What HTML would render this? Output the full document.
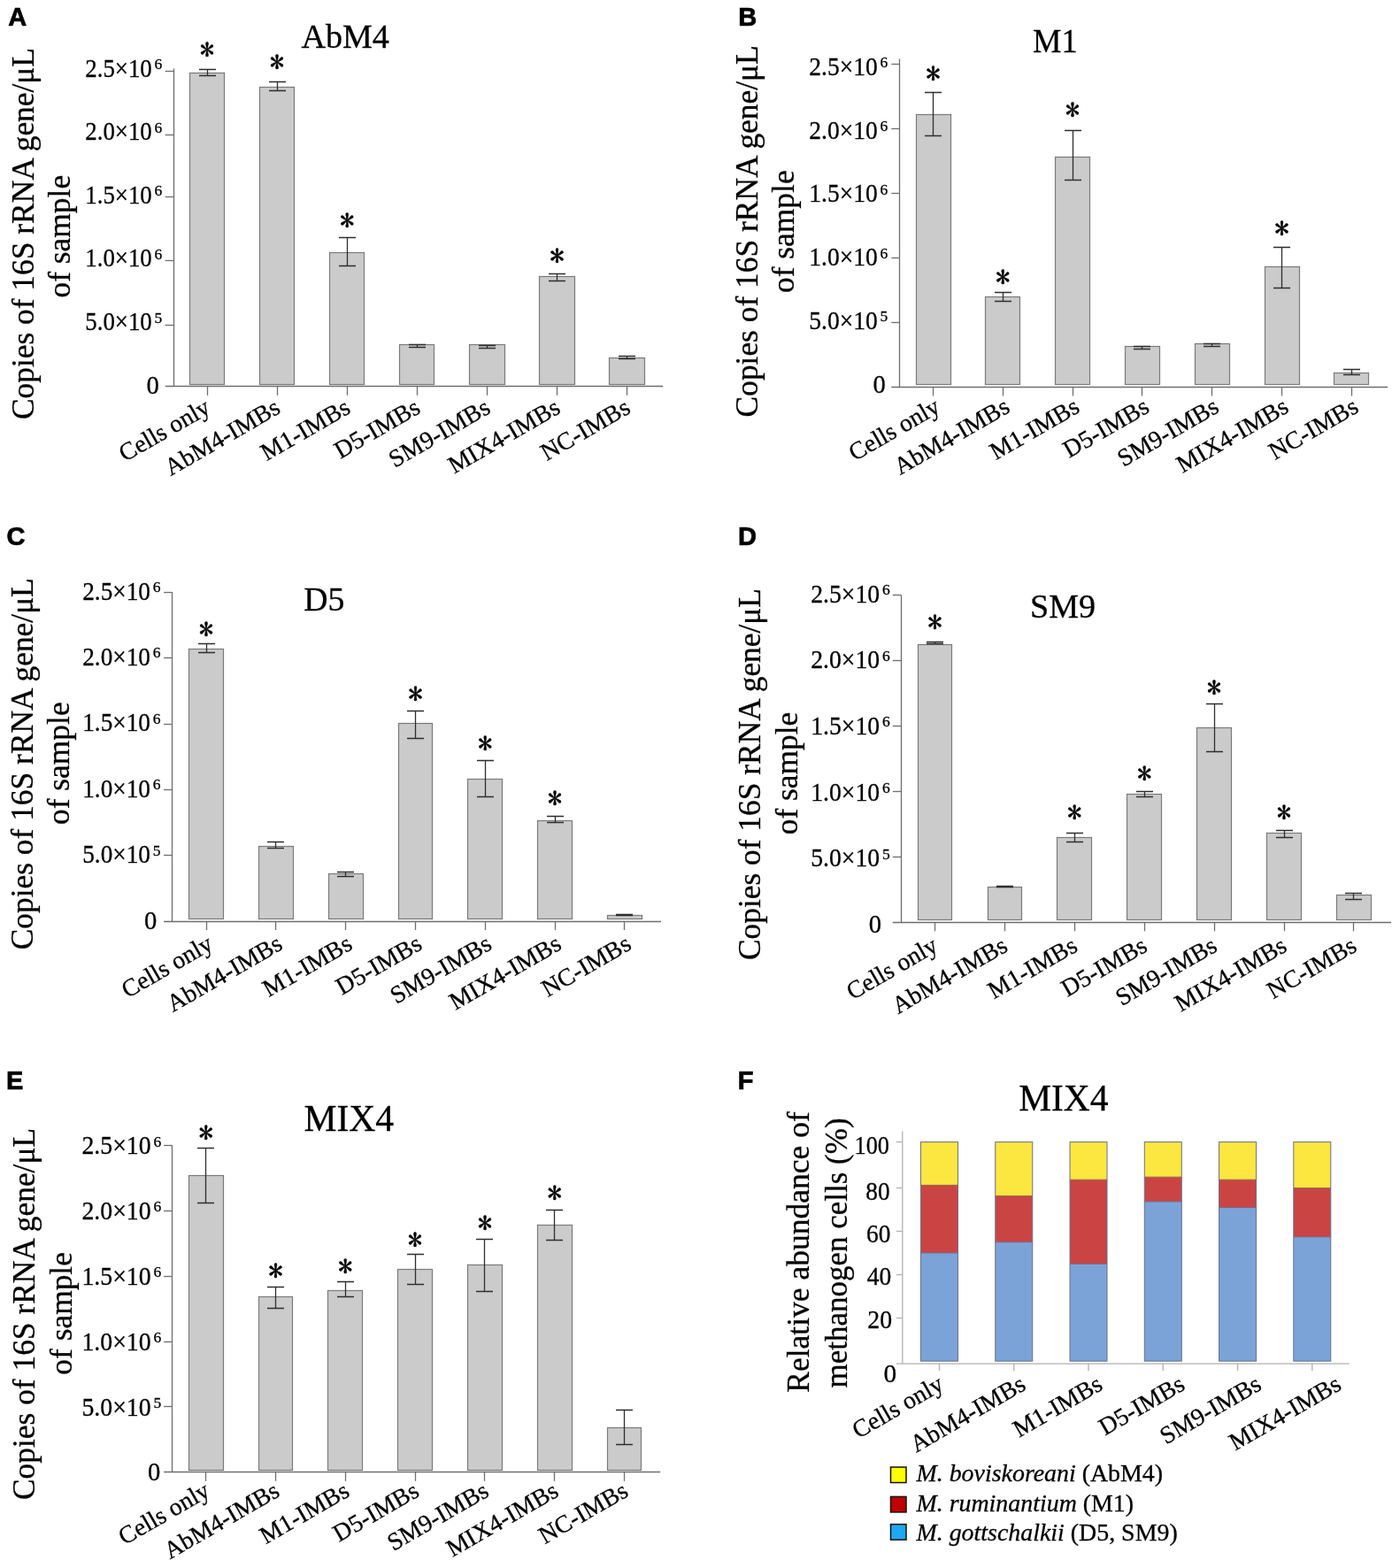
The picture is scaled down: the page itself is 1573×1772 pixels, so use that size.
<!DOCTYPE html>
<html><head><meta charset="utf-8"><title>Figure</title>
<style>html,body{margin:0;padding:0;background:#fff;width:1573px;height:1772px;overflow:hidden}svg{display:block}text:not([stroke]){stroke:#000;stroke-width:0.3px}</style>
</head><body>
<svg width="1573" height="1772" viewBox="0 0 1573 1772" font-family='Liberation Serif, serif' fill="#000">
<rect width="1573" height="1772" fill="#fff"/>
<g>
<line x1="196.5" y1="77.5" x2="196.5" y2="436.5" stroke="#6e6e6e" stroke-width="1.3"/>
<line x1="186.6" y1="436.5" x2="749.2" y2="436.5" stroke="#6e6e6e" stroke-width="1.3"/>
<text x="179.7" y="444.6" text-anchor="end" font-size="28.6">0</text>
<line x1="186.6" y1="367.5" x2="196.5" y2="367.5" stroke="#6e6e6e" stroke-width="1.3"/>
<text x="171.8" y="373.02" text-anchor="end" font-size="28.6" textLength="75.55" lengthAdjust="spacingAndGlyphs">5.0×10</text>
<text x="174.6" y="364.52" font-size="17.5">5</text>
<line x1="186.6" y1="294.5" x2="196.5" y2="294.5" stroke="#6e6e6e" stroke-width="1.3"/>
<text x="171.8" y="301.44" text-anchor="end" font-size="28.6" textLength="75.55" lengthAdjust="spacingAndGlyphs">1.0×10</text>
<text x="174.6" y="292.94" font-size="17.5">6</text>
<line x1="186.6" y1="222.5" x2="196.5" y2="222.5" stroke="#6e6e6e" stroke-width="1.3"/>
<text x="171.8" y="229.86" text-anchor="end" font-size="28.6" textLength="75.55" lengthAdjust="spacingAndGlyphs">1.5×10</text>
<text x="174.6" y="221.36" font-size="17.5">6</text>
<line x1="186.6" y1="152.5" x2="196.5" y2="152.5" stroke="#6e6e6e" stroke-width="1.3"/>
<text x="171.8" y="158.28" text-anchor="end" font-size="28.6" textLength="75.55" lengthAdjust="spacingAndGlyphs">2.0×10</text>
<text x="174.6" y="149.78" font-size="17.5">6</text>
<line x1="186.6" y1="80.5" x2="196.5" y2="80.5" stroke="#6e6e6e" stroke-width="1.3"/>
<text x="171.8" y="86.7" text-anchor="end" font-size="28.6" textLength="75.55" lengthAdjust="spacingAndGlyphs">2.5×10</text>
<text x="174.6" y="78.2" font-size="17.5">6</text>
<rect x="214.5" y="82.5" width="39" height="352" fill="#cbcbcb" stroke="#7a7a7a" stroke-width="1.2"/>
<rect x="293.5" y="98.5" width="39" height="336" fill="#cbcbcb" stroke="#7a7a7a" stroke-width="1.2"/>
<rect x="372.5" y="285.5" width="39" height="149" fill="#cbcbcb" stroke="#7a7a7a" stroke-width="1.2"/>
<rect x="451.5" y="389.5" width="39" height="45" fill="#cbcbcb" stroke="#7a7a7a" stroke-width="1.2"/>
<rect x="530.5" y="389.5" width="40" height="45" fill="#cbcbcb" stroke="#7a7a7a" stroke-width="1.2"/>
<rect x="609.5" y="312.5" width="40" height="122" fill="#cbcbcb" stroke="#7a7a7a" stroke-width="1.2"/>
<rect x="688.5" y="404.5" width="40" height="30" fill="#cbcbcb" stroke="#7a7a7a" stroke-width="1.2"/>
<path d="M225 78.5H244M225 85.5H244M234.5 78.5V85.5" stroke="#2e2e2e" stroke-width="1.3" fill="none"/>
<path d="M304 92.5H323M304 102.5H323M313.5 92.5V102.5" stroke="#2e2e2e" stroke-width="1.3" fill="none"/>
<path d="M383 268.5H402M383 300.5H402M392.5 268.5V300.5" stroke="#2e2e2e" stroke-width="1.3" fill="none"/>
<path d="M462 389.5H481M462 392.5H481M471.5 389.5V392.5" stroke="#2e2e2e" stroke-width="1.3" fill="none"/>
<path d="M541 390.5H560M541 393.5H560M550.5 390.5V393.5" stroke="#2e2e2e" stroke-width="1.3" fill="none"/>
<path d="M620 309.5H639M620 317.5H639M629.5 309.5V317.5" stroke="#2e2e2e" stroke-width="1.3" fill="none"/>
<path d="M699 402.5H718M699 405.5H718M708.5 402.5V405.5" stroke="#2e2e2e" stroke-width="1.3" fill="none"/>
<line x1="234.5" y1="436.5" x2="234.5" y2="446.8" stroke="#6e6e6e" stroke-width="1.3"/>
<line x1="313.5" y1="436.5" x2="313.5" y2="446.8" stroke="#6e6e6e" stroke-width="1.3"/>
<line x1="392.5" y1="436.5" x2="392.5" y2="446.8" stroke="#6e6e6e" stroke-width="1.3"/>
<line x1="471.5" y1="436.5" x2="471.5" y2="446.8" stroke="#6e6e6e" stroke-width="1.3"/>
<line x1="550.5" y1="436.5" x2="550.5" y2="446.8" stroke="#6e6e6e" stroke-width="1.3"/>
<line x1="629.5" y1="436.5" x2="629.5" y2="446.8" stroke="#6e6e6e" stroke-width="1.3"/>
<line x1="708.5" y1="436.5" x2="708.5" y2="446.8" stroke="#6e6e6e" stroke-width="1.3"/>
<text x="234" y="67.95" text-anchor="middle" font-family='IPAGothic, Liberation Serif, serif' font-size="33" stroke="#000" stroke-width="0.5" stroke-linejoin="round">*</text>
<text x="313.1" y="82.1" text-anchor="middle" font-family='IPAGothic, Liberation Serif, serif' font-size="33" stroke="#000" stroke-width="0.5" stroke-linejoin="round">*</text>
<text x="392.2" y="260.6" text-anchor="middle" font-family='IPAGothic, Liberation Serif, serif' font-size="33" stroke="#000" stroke-width="0.5" stroke-linejoin="round">*</text>
<text x="629.5" y="300.95" text-anchor="middle" font-family='IPAGothic, Liberation Serif, serif' font-size="33" stroke="#000" stroke-width="0.5" stroke-linejoin="round">*</text>
<text transform="translate(239.4 465.6) rotate(-30)" text-anchor="end" font-size="27.8">Cells only</text>
<text transform="translate(318.5 465.6) rotate(-30)" text-anchor="end" font-size="27.8">AbM4-IMBs</text>
<text transform="translate(397.6 465.6) rotate(-30)" text-anchor="end" font-size="27.8">M1-IMBs</text>
<text transform="translate(476.7 465.6) rotate(-30)" text-anchor="end" font-size="27.8">D5-IMBs</text>
<text transform="translate(555.8 465.6) rotate(-30)" text-anchor="end" font-size="27.8">SM9-IMBs</text>
<text transform="translate(634.9 465.6) rotate(-30)" text-anchor="end" font-size="27.8">MIX4-IMBs</text>
<text transform="translate(714 465.6) rotate(-30)" text-anchor="end" font-size="27.8">NC-IMBs</text>
<text x="340.5" y="54.4" font-size="38.2" textLength="99.4" lengthAdjust="spacingAndGlyphs">AbM4</text>
<text transform="translate(37.6 264.1) rotate(-90)" text-anchor="middle" font-size="35.4">Copies of 16S rRNA gene/μL</text>
<text transform="translate(78.5 267.2) rotate(-90)" text-anchor="middle" font-size="35.4">of sample</text>
<text x="9.3" y="28.7" font-family='Liberation Sans, sans-serif' font-weight="bold" font-size="29" stroke="#000" stroke-width="0.7">A</text>
</g>
<g>
<line x1="1016.5" y1="66.6" x2="1016.5" y2="437.5" stroke="#6e6e6e" stroke-width="1.3"/>
<line x1="1007.3" y1="437.5" x2="1568" y2="437.5" stroke="#6e6e6e" stroke-width="1.3"/>
<text x="1000.8" y="443.6" text-anchor="end" font-size="28.6">0</text>
<line x1="1007.3" y1="364.5" x2="1016.5" y2="364.5" stroke="#6e6e6e" stroke-width="1.3"/>
<text x="991.8" y="371.84" text-anchor="end" font-size="28.6" textLength="77.5" lengthAdjust="spacingAndGlyphs">5.0×10</text>
<text x="994.6" y="363.34" font-size="17.5">5</text>
<line x1="1007.3" y1="291.5" x2="1016.5" y2="291.5" stroke="#6e6e6e" stroke-width="1.3"/>
<text x="991.8" y="300.08" text-anchor="end" font-size="28.6" textLength="77.5" lengthAdjust="spacingAndGlyphs">1.0×10</text>
<text x="994.6" y="291.58" font-size="17.5">6</text>
<line x1="1007.3" y1="218.5" x2="1016.5" y2="218.5" stroke="#6e6e6e" stroke-width="1.3"/>
<text x="991.8" y="228.32" text-anchor="end" font-size="28.6" textLength="77.5" lengthAdjust="spacingAndGlyphs">1.5×10</text>
<text x="994.6" y="219.82" font-size="17.5">6</text>
<line x1="1007.3" y1="145.5" x2="1016.5" y2="145.5" stroke="#6e6e6e" stroke-width="1.3"/>
<text x="991.8" y="156.56" text-anchor="end" font-size="28.6" textLength="77.5" lengthAdjust="spacingAndGlyphs">2.0×10</text>
<text x="994.6" y="148.06" font-size="17.5">6</text>
<line x1="1007.3" y1="72.5" x2="1016.5" y2="72.5" stroke="#6e6e6e" stroke-width="1.3"/>
<text x="991.8" y="84.8" text-anchor="end" font-size="28.6" textLength="77.5" lengthAdjust="spacingAndGlyphs">2.5×10</text>
<text x="994.6" y="76.3" font-size="17.5">6</text>
<rect x="1035.5" y="129.5" width="39" height="305" fill="#cbcbcb" stroke="#7a7a7a" stroke-width="1.2"/>
<rect x="1113.5" y="335.5" width="39" height="99" fill="#cbcbcb" stroke="#7a7a7a" stroke-width="1.2"/>
<rect x="1192.5" y="177.5" width="39" height="257" fill="#cbcbcb" stroke="#7a7a7a" stroke-width="1.2"/>
<rect x="1271.5" y="391.5" width="39" height="43" fill="#cbcbcb" stroke="#7a7a7a" stroke-width="1.2"/>
<rect x="1350.5" y="388.5" width="39" height="46" fill="#cbcbcb" stroke="#7a7a7a" stroke-width="1.2"/>
<rect x="1429.5" y="301.5" width="39" height="133" fill="#cbcbcb" stroke="#7a7a7a" stroke-width="1.2"/>
<rect x="1507.5" y="421.5" width="39" height="13" fill="#cbcbcb" stroke="#7a7a7a" stroke-width="1.2"/>
<path d="M1045 104.5H1064M1045 153.5H1064M1054.5 104.5V153.5" stroke="#2e2e2e" stroke-width="1.3" fill="none"/>
<path d="M1124 330.5H1143M1124 340.5H1143M1133.5 330.5V340.5" stroke="#2e2e2e" stroke-width="1.3" fill="none"/>
<path d="M1203 147.5H1222M1203 203.5H1222M1212.5 147.5V203.5" stroke="#2e2e2e" stroke-width="1.3" fill="none"/>
<path d="M1281 391.5H1300M1281 394.5H1300M1290.5 391.5V394.5" stroke="#2e2e2e" stroke-width="1.3" fill="none"/>
<path d="M1360 388.5H1379M1360 391.5H1379M1369.5 388.5V391.5" stroke="#2e2e2e" stroke-width="1.3" fill="none"/>
<path d="M1439 279.5H1458M1439 325.5H1458M1448.5 279.5V325.5" stroke="#2e2e2e" stroke-width="1.3" fill="none"/>
<path d="M1518 417.5H1537M1518 423.5H1537M1527.5 417.5V423.5" stroke="#2e2e2e" stroke-width="1.3" fill="none"/>
<line x1="1054.5" y1="437.5" x2="1054.5" y2="447.4" stroke="#6e6e6e" stroke-width="1.3"/>
<line x1="1133.5" y1="437.5" x2="1133.5" y2="447.4" stroke="#6e6e6e" stroke-width="1.3"/>
<line x1="1212.5" y1="437.5" x2="1212.5" y2="447.4" stroke="#6e6e6e" stroke-width="1.3"/>
<line x1="1290.5" y1="437.5" x2="1290.5" y2="447.4" stroke="#6e6e6e" stroke-width="1.3"/>
<line x1="1369.5" y1="437.5" x2="1369.5" y2="447.4" stroke="#6e6e6e" stroke-width="1.3"/>
<line x1="1448.5" y1="437.5" x2="1448.5" y2="447.4" stroke="#6e6e6e" stroke-width="1.3"/>
<line x1="1527.5" y1="437.5" x2="1527.5" y2="447.4" stroke="#6e6e6e" stroke-width="1.3"/>
<text x="1054.5" y="94.8" text-anchor="middle" font-family='IPAGothic, Liberation Serif, serif' font-size="33" stroke="#000" stroke-width="0.5" stroke-linejoin="round">*</text>
<text x="1133.3" y="324.5" text-anchor="middle" font-family='IPAGothic, Liberation Serif, serif' font-size="33" stroke="#000" stroke-width="0.5" stroke-linejoin="round">*</text>
<text x="1212.1" y="136.15" text-anchor="middle" font-family='IPAGothic, Liberation Serif, serif' font-size="33" stroke="#000" stroke-width="0.5" stroke-linejoin="round">*</text>
<text x="1448.5" y="270.3" text-anchor="middle" font-family='IPAGothic, Liberation Serif, serif' font-size="33" stroke="#000" stroke-width="0.5" stroke-linejoin="round">*</text>
<text transform="translate(1064 464.7) rotate(-30)" text-anchor="end" font-size="27.8">Cells only</text>
<text transform="translate(1142.8 464.7) rotate(-30)" text-anchor="end" font-size="27.8">AbM4-IMBs</text>
<text transform="translate(1221.6 464.7) rotate(-30)" text-anchor="end" font-size="27.8">M1-IMBs</text>
<text transform="translate(1300.4 464.7) rotate(-30)" text-anchor="end" font-size="27.8">D5-IMBs</text>
<text transform="translate(1379.2 464.7) rotate(-30)" text-anchor="end" font-size="27.8">SM9-IMBs</text>
<text transform="translate(1458 464.7) rotate(-30)" text-anchor="end" font-size="27.8">MIX4-IMBs</text>
<text transform="translate(1536.8 464.7) rotate(-30)" text-anchor="end" font-size="27.8">NC-IMBs</text>
<text x="1167.09" y="58.6" font-size="38.4" textLength="50.63" lengthAdjust="spacingAndGlyphs">M1</text>
<text transform="translate(855.6 261.4) rotate(-90)" text-anchor="middle" font-size="35.4">Copies of 16S rRNA gene/μL</text>
<text transform="translate(897.1 261.7) rotate(-90)" text-anchor="middle" font-size="35.4">of sample</text>
<text x="834.3" y="28.7" font-family='Liberation Sans, sans-serif' font-weight="bold" font-size="29" stroke="#000" stroke-width="0.7">B</text>
</g>
<g>
<line x1="194.5" y1="669" x2="194.5" y2="1041.5" stroke="#6e6e6e" stroke-width="1.3"/>
<line x1="185.1" y1="1041.5" x2="747" y2="1041.5" stroke="#6e6e6e" stroke-width="1.3"/>
<text x="177.4" y="1049.8" text-anchor="end" font-size="28.6">0</text>
<line x1="185.1" y1="966.5" x2="194.5" y2="966.5" stroke="#6e6e6e" stroke-width="1.3"/>
<text x="169.9" y="975.34" text-anchor="end" font-size="28.6" textLength="76.7" lengthAdjust="spacingAndGlyphs">5.0×10</text>
<text x="172.7" y="966.84" font-size="17.5">5</text>
<line x1="185.1" y1="892.5" x2="194.5" y2="892.5" stroke="#6e6e6e" stroke-width="1.3"/>
<text x="169.9" y="900.88" text-anchor="end" font-size="28.6" textLength="76.7" lengthAdjust="spacingAndGlyphs">1.0×10</text>
<text x="172.7" y="892.38" font-size="17.5">6</text>
<line x1="185.1" y1="818.5" x2="194.5" y2="818.5" stroke="#6e6e6e" stroke-width="1.3"/>
<text x="169.9" y="826.42" text-anchor="end" font-size="28.6" textLength="76.7" lengthAdjust="spacingAndGlyphs">1.5×10</text>
<text x="172.7" y="817.92" font-size="17.5">6</text>
<line x1="185.1" y1="743.5" x2="194.5" y2="743.5" stroke="#6e6e6e" stroke-width="1.3"/>
<text x="169.9" y="751.96" text-anchor="end" font-size="28.6" textLength="76.7" lengthAdjust="spacingAndGlyphs">2.0×10</text>
<text x="172.7" y="743.46" font-size="17.5">6</text>
<line x1="185.1" y1="669.5" x2="194.5" y2="669.5" stroke="#6e6e6e" stroke-width="1.3"/>
<text x="169.9" y="677.5" text-anchor="end" font-size="28.6" textLength="76.7" lengthAdjust="spacingAndGlyphs">2.5×10</text>
<text x="172.7" y="669" font-size="17.5">6</text>
<rect x="213.5" y="733.5" width="39" height="305" fill="#cbcbcb" stroke="#7a7a7a" stroke-width="1.2"/>
<rect x="292.5" y="956.5" width="39" height="82" fill="#cbcbcb" stroke="#7a7a7a" stroke-width="1.2"/>
<rect x="371.5" y="987.5" width="39" height="51" fill="#cbcbcb" stroke="#7a7a7a" stroke-width="1.2"/>
<rect x="450.5" y="817.5" width="38" height="221" fill="#cbcbcb" stroke="#7a7a7a" stroke-width="1.2"/>
<rect x="528.5" y="880.5" width="39" height="158" fill="#cbcbcb" stroke="#7a7a7a" stroke-width="1.2"/>
<rect x="607.5" y="927.5" width="39" height="111" fill="#cbcbcb" stroke="#7a7a7a" stroke-width="1.2"/>
<rect x="686.5" y="1034.5" width="39" height="4" fill="#cbcbcb" stroke="#7a7a7a" stroke-width="1.2"/>
<path d="M224 727.5H243M224 737.5H243M233.5 727.5V737.5" stroke="#2e2e2e" stroke-width="1.3" fill="none"/>
<path d="M302 951.5H321M302 958.5H321M311.5 951.5V958.5" stroke="#2e2e2e" stroke-width="1.3" fill="none"/>
<path d="M381 985.5H400M381 990.5H400M390.5 985.5V990.5" stroke="#2e2e2e" stroke-width="1.3" fill="none"/>
<path d="M460 803.5H479M460 834.5H479M469.5 803.5V834.5" stroke="#2e2e2e" stroke-width="1.3" fill="none"/>
<path d="M539 859.5H558M539 900.5H558M548.5 859.5V900.5" stroke="#2e2e2e" stroke-width="1.3" fill="none"/>
<path d="M618 922.5H637M618 929.5H637M627.5 922.5V929.5" stroke="#2e2e2e" stroke-width="1.3" fill="none"/>
<path d="M696 1033.5H715M696 1034.5H715M705.5 1033.5V1034.5" stroke="#2e2e2e" stroke-width="1.3" fill="none"/>
<line x1="233.5" y1="1041.5" x2="233.5" y2="1051" stroke="#6e6e6e" stroke-width="1.3"/>
<line x1="311.5" y1="1041.5" x2="311.5" y2="1051" stroke="#6e6e6e" stroke-width="1.3"/>
<line x1="390.5" y1="1041.5" x2="390.5" y2="1051" stroke="#6e6e6e" stroke-width="1.3"/>
<line x1="469.5" y1="1041.5" x2="469.5" y2="1051" stroke="#6e6e6e" stroke-width="1.3"/>
<line x1="548.5" y1="1041.5" x2="548.5" y2="1051" stroke="#6e6e6e" stroke-width="1.3"/>
<line x1="627.5" y1="1041.5" x2="627.5" y2="1051" stroke="#6e6e6e" stroke-width="1.3"/>
<line x1="705.5" y1="1041.5" x2="705.5" y2="1051" stroke="#6e6e6e" stroke-width="1.3"/>
<text x="233" y="723.2" text-anchor="middle" font-family='IPAGothic, Liberation Serif, serif' font-size="33" stroke="#000" stroke-width="0.5" stroke-linejoin="round">*</text>
<text x="469.4" y="795.8" text-anchor="middle" font-family='IPAGothic, Liberation Serif, serif' font-size="33" stroke="#000" stroke-width="0.5" stroke-linejoin="round">*</text>
<text x="548.2" y="851.55" text-anchor="middle" font-family='IPAGothic, Liberation Serif, serif' font-size="33" stroke="#000" stroke-width="0.5" stroke-linejoin="round">*</text>
<text x="627" y="914.3" text-anchor="middle" font-family='IPAGothic, Liberation Serif, serif' font-size="33" stroke="#000" stroke-width="0.5" stroke-linejoin="round">*</text>
<text transform="translate(242.2 1071.7) rotate(-30)" text-anchor="end" font-size="27.8">Cells only</text>
<text transform="translate(321 1071.7) rotate(-30)" text-anchor="end" font-size="27.8">AbM4-IMBs</text>
<text transform="translate(399.8 1071.7) rotate(-30)" text-anchor="end" font-size="27.8">M1-IMBs</text>
<text transform="translate(478.6 1071.7) rotate(-30)" text-anchor="end" font-size="27.8">D5-IMBs</text>
<text transform="translate(557.4 1071.7) rotate(-30)" text-anchor="end" font-size="27.8">SM9-IMBs</text>
<text transform="translate(636.2 1071.7) rotate(-30)" text-anchor="end" font-size="27.8">MIX4-IMBs</text>
<text transform="translate(715 1071.7) rotate(-30)" text-anchor="end" font-size="27.8">NC-IMBs</text>
<text x="343.36" y="689.7" font-size="38.4" textLength="46.09" lengthAdjust="spacingAndGlyphs">D5</text>
<text transform="translate(36.6 863.3) rotate(-90)" text-anchor="middle" font-size="35.4">Copies of 16S rRNA gene/μL</text>
<text transform="translate(78.2 862.7) rotate(-90)" text-anchor="middle" font-size="35.4">of sample</text>
<text x="7.6" y="616" font-family='Liberation Sans, sans-serif' font-weight="bold" font-size="29" stroke="#000" stroke-width="0.7">C</text>
</g>
<g>
<line x1="1018.5" y1="672.8" x2="1018.5" y2="1042.5" stroke="#6e6e6e" stroke-width="1.3"/>
<line x1="1008.8" y1="1042.5" x2="1572" y2="1042.5" stroke="#6e6e6e" stroke-width="1.3"/>
<text x="996.1" y="1053.8" text-anchor="end" font-size="28.6">0</text>
<line x1="1008.8" y1="968.5" x2="1018.5" y2="968.5" stroke="#6e6e6e" stroke-width="1.3"/>
<text x="994.1" y="979.16" text-anchor="end" font-size="28.6" textLength="77.9" lengthAdjust="spacingAndGlyphs">5.0×10</text>
<text x="996.9" y="970.66" font-size="17.5">5</text>
<line x1="1008.8" y1="894.5" x2="1018.5" y2="894.5" stroke="#6e6e6e" stroke-width="1.3"/>
<text x="994.1" y="904.52" text-anchor="end" font-size="28.6" textLength="77.9" lengthAdjust="spacingAndGlyphs">1.0×10</text>
<text x="996.9" y="896.02" font-size="17.5">6</text>
<line x1="1008.8" y1="820.5" x2="1018.5" y2="820.5" stroke="#6e6e6e" stroke-width="1.3"/>
<text x="994.1" y="829.88" text-anchor="end" font-size="28.6" textLength="77.9" lengthAdjust="spacingAndGlyphs">1.5×10</text>
<text x="996.9" y="821.38" font-size="17.5">6</text>
<line x1="1008.8" y1="746.5" x2="1018.5" y2="746.5" stroke="#6e6e6e" stroke-width="1.3"/>
<text x="994.1" y="755.24" text-anchor="end" font-size="28.6" textLength="77.9" lengthAdjust="spacingAndGlyphs">2.0×10</text>
<text x="996.9" y="746.74" font-size="17.5">6</text>
<line x1="1008.8" y1="672.5" x2="1018.5" y2="672.5" stroke="#6e6e6e" stroke-width="1.3"/>
<text x="994.1" y="680.6" text-anchor="end" font-size="28.6" textLength="77.9" lengthAdjust="spacingAndGlyphs">2.5×10</text>
<text x="996.9" y="672.1" font-size="17.5">6</text>
<rect x="1037.5" y="728.5" width="38" height="311" fill="#cbcbcb" stroke="#7a7a7a" stroke-width="1.2"/>
<rect x="1116.5" y="1002.5" width="38" height="37" fill="#cbcbcb" stroke="#7a7a7a" stroke-width="1.2"/>
<rect x="1194.5" y="946.5" width="39" height="93" fill="#cbcbcb" stroke="#7a7a7a" stroke-width="1.2"/>
<rect x="1273.5" y="897.5" width="39" height="142" fill="#cbcbcb" stroke="#7a7a7a" stroke-width="1.2"/>
<rect x="1352.5" y="822.5" width="39" height="217" fill="#cbcbcb" stroke="#7a7a7a" stroke-width="1.2"/>
<rect x="1431.5" y="941.5" width="39" height="98" fill="#cbcbcb" stroke="#7a7a7a" stroke-width="1.2"/>
<rect x="1510.5" y="1011.5" width="39" height="28" fill="#cbcbcb" stroke="#7a7a7a" stroke-width="1.2"/>
<path d="M1047 725.5H1066M1047 727.5H1066M1056.5 725.5V727.5" stroke="#2e2e2e" stroke-width="1.3" fill="none"/>
<path d="M1126 1001.5H1145M1126 1002.5H1145M1135.5 1001.5V1002.5" stroke="#2e2e2e" stroke-width="1.3" fill="none"/>
<path d="M1205 941.5H1224M1205 951.5H1224M1214.5 941.5V951.5" stroke="#2e2e2e" stroke-width="1.3" fill="none"/>
<path d="M1284 894.5H1303M1284 900.5H1303M1293.5 894.5V900.5" stroke="#2e2e2e" stroke-width="1.3" fill="none"/>
<path d="M1363 795.5H1382M1363 849.5H1382M1372.5 795.5V849.5" stroke="#2e2e2e" stroke-width="1.3" fill="none"/>
<path d="M1442 938.5H1461M1442 946.5H1461M1451.5 938.5V946.5" stroke="#2e2e2e" stroke-width="1.3" fill="none"/>
<path d="M1520 1009.5H1539M1520 1016.5H1539M1529.5 1009.5V1016.5" stroke="#2e2e2e" stroke-width="1.3" fill="none"/>
<line x1="1056.5" y1="1042.5" x2="1056.5" y2="1052.3" stroke="#6e6e6e" stroke-width="1.3"/>
<line x1="1135.5" y1="1042.5" x2="1135.5" y2="1052.3" stroke="#6e6e6e" stroke-width="1.3"/>
<line x1="1214.5" y1="1042.5" x2="1214.5" y2="1052.3" stroke="#6e6e6e" stroke-width="1.3"/>
<line x1="1293.5" y1="1042.5" x2="1293.5" y2="1052.3" stroke="#6e6e6e" stroke-width="1.3"/>
<line x1="1372.5" y1="1042.5" x2="1372.5" y2="1052.3" stroke="#6e6e6e" stroke-width="1.3"/>
<line x1="1451.5" y1="1042.5" x2="1451.5" y2="1052.3" stroke="#6e6e6e" stroke-width="1.3"/>
<line x1="1529.5" y1="1042.5" x2="1529.5" y2="1052.3" stroke="#6e6e6e" stroke-width="1.3"/>
<text x="1056.5" y="714.95" text-anchor="middle" font-family='IPAGothic, Liberation Serif, serif' font-size="33" stroke="#000" stroke-width="0.5" stroke-linejoin="round">*</text>
<text x="1214.3" y="930.15" text-anchor="middle" font-family='IPAGothic, Liberation Serif, serif' font-size="33" stroke="#000" stroke-width="0.5" stroke-linejoin="round">*</text>
<text x="1293.2" y="885.7" text-anchor="middle" font-family='IPAGothic, Liberation Serif, serif' font-size="33" stroke="#000" stroke-width="0.5" stroke-linejoin="round">*</text>
<text x="1372.1" y="789.15" text-anchor="middle" font-family='IPAGothic, Liberation Serif, serif' font-size="33" stroke="#000" stroke-width="0.5" stroke-linejoin="round">*</text>
<text x="1451" y="930.15" text-anchor="middle" font-family='IPAGothic, Liberation Serif, serif' font-size="33" stroke="#000" stroke-width="0.5" stroke-linejoin="round">*</text>
<text transform="translate(1061.5 1073.8) rotate(-30)" text-anchor="end" font-size="27.8">Cells only</text>
<text transform="translate(1140.4 1073.8) rotate(-30)" text-anchor="end" font-size="27.8">AbM4-IMBs</text>
<text transform="translate(1219.3 1073.8) rotate(-30)" text-anchor="end" font-size="27.8">M1-IMBs</text>
<text transform="translate(1298.2 1073.8) rotate(-30)" text-anchor="end" font-size="27.8">D5-IMBs</text>
<text transform="translate(1377.1 1073.8) rotate(-30)" text-anchor="end" font-size="27.8">SM9-IMBs</text>
<text transform="translate(1456 1073.8) rotate(-30)" text-anchor="end" font-size="27.8">MIX4-IMBs</text>
<text transform="translate(1534.9 1073.8) rotate(-30)" text-anchor="end" font-size="27.8">NC-IMBs</text>
<text x="1164" y="697.7" font-size="38.4" textLength="74.06" lengthAdjust="spacingAndGlyphs">SM9</text>
<text transform="translate(858.6 875.1) rotate(-90)" text-anchor="middle" font-size="35.4">Copies of 16S rRNA gene/μL</text>
<text transform="translate(900.8 874) rotate(-90)" text-anchor="middle" font-size="35.4">of sample</text>
<text x="834" y="616.2" font-family='Liberation Sans, sans-serif' font-weight="bold" font-size="29" stroke="#000" stroke-width="0.7">D</text>
</g>
<g>
<line x1="194.5" y1="1294" x2="194.5" y2="1663.5" stroke="#6e6e6e" stroke-width="1.3"/>
<line x1="185.1" y1="1663.5" x2="746.2" y2="1663.5" stroke="#6e6e6e" stroke-width="1.3"/>
<text x="181.4" y="1673.4" text-anchor="end" font-size="28.6">0</text>
<line x1="185.1" y1="1589.5" x2="194.5" y2="1589.5" stroke="#6e6e6e" stroke-width="1.3"/>
<text x="170.7" y="1599.52" text-anchor="end" font-size="28.6" textLength="78.3" lengthAdjust="spacingAndGlyphs">5.0×10</text>
<text x="173.5" y="1591.02" font-size="17.5">5</text>
<line x1="185.1" y1="1516.5" x2="194.5" y2="1516.5" stroke="#6e6e6e" stroke-width="1.3"/>
<text x="170.7" y="1525.64" text-anchor="end" font-size="28.6" textLength="78.3" lengthAdjust="spacingAndGlyphs">1.0×10</text>
<text x="173.5" y="1517.14" font-size="17.5">6</text>
<line x1="185.1" y1="1442.5" x2="194.5" y2="1442.5" stroke="#6e6e6e" stroke-width="1.3"/>
<text x="170.7" y="1451.76" text-anchor="end" font-size="28.6" textLength="78.3" lengthAdjust="spacingAndGlyphs">1.5×10</text>
<text x="173.5" y="1443.26" font-size="17.5">6</text>
<line x1="185.1" y1="1368.5" x2="194.5" y2="1368.5" stroke="#6e6e6e" stroke-width="1.3"/>
<text x="170.7" y="1377.88" text-anchor="end" font-size="28.6" textLength="78.3" lengthAdjust="spacingAndGlyphs">2.0×10</text>
<text x="173.5" y="1369.38" font-size="17.5">6</text>
<line x1="185.1" y1="1294.5" x2="194.5" y2="1294.5" stroke="#6e6e6e" stroke-width="1.3"/>
<text x="170.7" y="1304" text-anchor="end" font-size="28.6" textLength="78.3" lengthAdjust="spacingAndGlyphs">2.5×10</text>
<text x="173.5" y="1295.5" font-size="17.5">6</text>
<rect x="213.5" y="1328.5" width="39" height="333" fill="#cbcbcb" stroke="#7a7a7a" stroke-width="1.2"/>
<rect x="292.5" y="1465.5" width="38" height="196" fill="#cbcbcb" stroke="#7a7a7a" stroke-width="1.2"/>
<rect x="370.5" y="1458.5" width="39" height="203" fill="#cbcbcb" stroke="#7a7a7a" stroke-width="1.2"/>
<rect x="449.5" y="1434.5" width="39" height="227" fill="#cbcbcb" stroke="#7a7a7a" stroke-width="1.2"/>
<rect x="528.5" y="1429.5" width="39" height="232" fill="#cbcbcb" stroke="#7a7a7a" stroke-width="1.2"/>
<rect x="607.5" y="1384.5" width="39" height="277" fill="#cbcbcb" stroke="#7a7a7a" stroke-width="1.2"/>
<rect x="686.5" y="1613.5" width="38" height="48" fill="#cbcbcb" stroke="#7a7a7a" stroke-width="1.2"/>
<path d="M223 1297.5H242M223 1359.5H242M232.5 1297.5V1359.5" stroke="#2e2e2e" stroke-width="1.3" fill="none"/>
<path d="M302 1454.5H321M302 1478.5H321M311.5 1454.5V1478.5" stroke="#2e2e2e" stroke-width="1.3" fill="none"/>
<path d="M381 1448.5H400M381 1465.5H400M390.5 1448.5V1465.5" stroke="#2e2e2e" stroke-width="1.3" fill="none"/>
<path d="M460 1417.5H479M460 1451.5H479M469.5 1417.5V1451.5" stroke="#2e2e2e" stroke-width="1.3" fill="none"/>
<path d="M538 1400.5H557M538 1459.5H557M547.5 1400.5V1459.5" stroke="#2e2e2e" stroke-width="1.3" fill="none"/>
<path d="M617 1367.5H636M617 1401.5H636M626.5 1367.5V1401.5" stroke="#2e2e2e" stroke-width="1.3" fill="none"/>
<path d="M696 1593.5H715M696 1632.5H715M705.5 1593.5V1632.5" stroke="#2e2e2e" stroke-width="1.3" fill="none"/>
<line x1="232.5" y1="1663.5" x2="232.5" y2="1673.8" stroke="#6e6e6e" stroke-width="1.3"/>
<line x1="311.5" y1="1663.5" x2="311.5" y2="1673.8" stroke="#6e6e6e" stroke-width="1.3"/>
<line x1="390.5" y1="1663.5" x2="390.5" y2="1673.8" stroke="#6e6e6e" stroke-width="1.3"/>
<line x1="469.5" y1="1663.5" x2="469.5" y2="1673.8" stroke="#6e6e6e" stroke-width="1.3"/>
<line x1="547.5" y1="1663.5" x2="547.5" y2="1673.8" stroke="#6e6e6e" stroke-width="1.3"/>
<line x1="626.5" y1="1663.5" x2="626.5" y2="1673.8" stroke="#6e6e6e" stroke-width="1.3"/>
<line x1="705.5" y1="1663.5" x2="705.5" y2="1673.8" stroke="#6e6e6e" stroke-width="1.3"/>
<text x="232.7" y="1291.8" text-anchor="middle" font-family='IPAGothic, Liberation Serif, serif' font-size="33" stroke="#000" stroke-width="0.5" stroke-linejoin="round">*</text>
<text x="311.5" y="1448.25" text-anchor="middle" font-family='IPAGothic, Liberation Serif, serif' font-size="33" stroke="#000" stroke-width="0.5" stroke-linejoin="round">*</text>
<text x="390.3" y="1442.6" text-anchor="middle" font-family='IPAGothic, Liberation Serif, serif' font-size="33" stroke="#000" stroke-width="0.5" stroke-linejoin="round">*</text>
<text x="469.1" y="1413.45" text-anchor="middle" font-family='IPAGothic, Liberation Serif, serif' font-size="33" stroke="#000" stroke-width="0.5" stroke-linejoin="round">*</text>
<text x="547.9" y="1393.75" text-anchor="middle" font-family='IPAGothic, Liberation Serif, serif' font-size="33" stroke="#000" stroke-width="0.5" stroke-linejoin="round">*</text>
<text x="626.7" y="1360.05" text-anchor="middle" font-family='IPAGothic, Liberation Serif, serif' font-size="33" stroke="#000" stroke-width="0.5" stroke-linejoin="round">*</text>
<text transform="translate(238.9 1689.8) rotate(-30)" text-anchor="end" font-size="27.8">Cells only</text>
<text transform="translate(317.7 1689.8) rotate(-30)" text-anchor="end" font-size="27.8">AbM4-IMBs</text>
<text transform="translate(396.5 1689.8) rotate(-30)" text-anchor="end" font-size="27.8">M1-IMBs</text>
<text transform="translate(475.3 1689.8) rotate(-30)" text-anchor="end" font-size="27.8">D5-IMBs</text>
<text transform="translate(554.1 1689.8) rotate(-30)" text-anchor="end" font-size="27.8">SM9-IMBs</text>
<text transform="translate(632.9 1689.8) rotate(-30)" text-anchor="end" font-size="27.8">MIX4-IMBs</text>
<text transform="translate(711.7 1689.8) rotate(-30)" text-anchor="end" font-size="27.8">NC-IMBs</text>
<text x="343.46" y="1277.8" font-size="41.3" textLength="101.74" lengthAdjust="spacingAndGlyphs">MIX4</text>
<text transform="translate(38.6 1485) rotate(-90)" text-anchor="middle" font-size="35.4">Copies of 16S rRNA gene/μL</text>
<text transform="translate(80.8 1484.4) rotate(-90)" text-anchor="middle" font-size="35.4">of sample</text>
<text x="7.1" y="1231.2" font-family='Liberation Sans, sans-serif' font-weight="bold" font-size="29" stroke="#000" stroke-width="0.7">E</text>
</g>
<g>
<line x1="1019.8" y1="1278.5" x2="1019.8" y2="1541.2" stroke="#b0b0b0" stroke-width="1.3"/>
<line x1="1012.8" y1="1541.2" x2="1524.7" y2="1541.2" stroke="#b0b0b0" stroke-width="1.3"/>
<text x="1013.1" y="1562.4" text-anchor="end" font-size="29.3">0</text>
<line x1="1012.8" y1="1489.5" x2="1019.5" y2="1489.5" stroke="#b0b0b0" stroke-width="1.3"/>
<text x="1008.1" y="1500.6" text-anchor="end" font-size="29.3" textLength="27.8" lengthAdjust="spacingAndGlyphs">20</text>
<line x1="1012.8" y1="1440.5" x2="1019.5" y2="1440.5" stroke="#b0b0b0" stroke-width="1.3"/>
<text x="1007.2" y="1452.1" text-anchor="end" font-size="29.3" textLength="27.5" lengthAdjust="spacingAndGlyphs">40</text>
<line x1="1012.8" y1="1391.5" x2="1019.5" y2="1391.5" stroke="#b0b0b0" stroke-width="1.3"/>
<text x="1006.4" y="1403.9" text-anchor="end" font-size="29.3" textLength="27.4" lengthAdjust="spacingAndGlyphs">60</text>
<line x1="1012.8" y1="1342.5" x2="1019.5" y2="1342.5" stroke="#b0b0b0" stroke-width="1.3"/>
<text x="1005.6" y="1355.6" text-anchor="end" font-size="29.3" textLength="27.3" lengthAdjust="spacingAndGlyphs">80</text>
<line x1="1012.8" y1="1290.5" x2="1019.5" y2="1290.5" stroke="#b0b0b0" stroke-width="1.3"/>
<text x="1004.9" y="1303.6" text-anchor="end" font-size="29.3" textLength="39.4" lengthAdjust="spacingAndGlyphs">100</text>
<rect x="1040.5" y="1415.9" width="42" height="122.3" fill="#7ba3d7"/>
<rect x="1040.5" y="1339.4" width="42" height="76.5" fill="#cb4444"/>
<rect x="1040.5" y="1290.6" width="42" height="48.8" fill="#fce640"/>
<rect x="1040.5" y="1290.6" width="42" height="247.6" fill="none" stroke="#6a7088" stroke-width="1"/>
<line x1="1040.5" y1="1339.4" x2="1082.5" y2="1339.4" stroke="#8a6050" stroke-width="1"/>
<line x1="1040.5" y1="1415.9" x2="1082.5" y2="1415.9" stroke="#7a6080" stroke-width="1"/>
<line x1="1061.5" y1="1541.2" x2="1061.5" y2="1549.2" stroke="#b0b0b0" stroke-width="1.3"/>
<text transform="translate(1068 1569.4) rotate(-30)" text-anchor="end" font-size="27.8">Cells only</text>
<rect x="1124.76" y="1403.7" width="42" height="134.5" fill="#7ba3d7"/>
<rect x="1124.76" y="1351.6" width="42" height="52.1" fill="#cb4444"/>
<rect x="1124.76" y="1290.6" width="42" height="61" fill="#fce640"/>
<rect x="1124.76" y="1290.6" width="42" height="247.6" fill="none" stroke="#6a7088" stroke-width="1"/>
<line x1="1124.76" y1="1351.6" x2="1166.76" y2="1351.6" stroke="#8a6050" stroke-width="1"/>
<line x1="1124.76" y1="1403.7" x2="1166.76" y2="1403.7" stroke="#7a6080" stroke-width="1"/>
<line x1="1145.76" y1="1541.2" x2="1145.76" y2="1549.2" stroke="#b0b0b0" stroke-width="1.3"/>
<text transform="translate(1160.9 1569.4) rotate(-30)" text-anchor="end" font-size="27.8">AbM4-IMBs</text>
<rect x="1209.02" y="1428.3" width="42" height="109.9" fill="#7ba3d7"/>
<rect x="1209.02" y="1333.2" width="42" height="95.1" fill="#cb4444"/>
<rect x="1209.02" y="1290.6" width="42" height="42.6" fill="#fce640"/>
<rect x="1209.02" y="1290.6" width="42" height="247.6" fill="none" stroke="#6a7088" stroke-width="1"/>
<line x1="1209.02" y1="1333.2" x2="1251.02" y2="1333.2" stroke="#8a6050" stroke-width="1"/>
<line x1="1209.02" y1="1428.3" x2="1251.02" y2="1428.3" stroke="#7a6080" stroke-width="1"/>
<line x1="1230.02" y1="1541.2" x2="1230.02" y2="1549.2" stroke="#b0b0b0" stroke-width="1.3"/>
<text transform="translate(1247.7 1569.4) rotate(-30)" text-anchor="end" font-size="27.8">M1-IMBs</text>
<rect x="1293.28" y="1357.9" width="42" height="180.3" fill="#7ba3d7"/>
<rect x="1293.28" y="1330.2" width="42" height="27.7" fill="#cb4444"/>
<rect x="1293.28" y="1290.6" width="42" height="39.6" fill="#fce640"/>
<rect x="1293.28" y="1290.6" width="42" height="247.6" fill="none" stroke="#6a7088" stroke-width="1"/>
<line x1="1293.28" y1="1330.2" x2="1335.28" y2="1330.2" stroke="#8a6050" stroke-width="1"/>
<line x1="1293.28" y1="1357.9" x2="1335.28" y2="1357.9" stroke="#7a6080" stroke-width="1"/>
<line x1="1314.28" y1="1541.2" x2="1314.28" y2="1549.2" stroke="#b0b0b0" stroke-width="1.3"/>
<text transform="translate(1340.7 1569.4) rotate(-30)" text-anchor="end" font-size="27.8">D5-IMBs</text>
<rect x="1377.54" y="1364.6" width="42" height="173.6" fill="#7ba3d7"/>
<rect x="1377.54" y="1333.2" width="42" height="31.4" fill="#cb4444"/>
<rect x="1377.54" y="1290.6" width="42" height="42.6" fill="#fce640"/>
<rect x="1377.54" y="1290.6" width="42" height="247.6" fill="none" stroke="#6a7088" stroke-width="1"/>
<line x1="1377.54" y1="1333.2" x2="1419.54" y2="1333.2" stroke="#8a6050" stroke-width="1"/>
<line x1="1377.54" y1="1364.6" x2="1419.54" y2="1364.6" stroke="#7a6080" stroke-width="1"/>
<line x1="1398.54" y1="1541.2" x2="1398.54" y2="1549.2" stroke="#b0b0b0" stroke-width="1.3"/>
<text transform="translate(1427.2 1569.4) rotate(-30)" text-anchor="end" font-size="27.8">SM9-IMBs</text>
<rect x="1461.8" y="1397.8" width="42" height="140.4" fill="#7ba3d7"/>
<rect x="1461.8" y="1342.6" width="42" height="55.2" fill="#cb4444"/>
<rect x="1461.8" y="1290.6" width="42" height="52" fill="#fce640"/>
<rect x="1461.8" y="1290.6" width="42" height="247.6" fill="none" stroke="#6a7088" stroke-width="1"/>
<line x1="1461.8" y1="1342.6" x2="1503.8" y2="1342.6" stroke="#8a6050" stroke-width="1"/>
<line x1="1461.8" y1="1397.8" x2="1503.8" y2="1397.8" stroke="#7a6080" stroke-width="1"/>
<line x1="1482.8" y1="1541.2" x2="1482.8" y2="1549.2" stroke="#b0b0b0" stroke-width="1.3"/>
<text transform="translate(1517.5 1569.4) rotate(-30)" text-anchor="end" font-size="27.8">MIX4-IMBs</text>
<text x="1151.16" y="1255.1" font-size="42" textLength="101.44" lengthAdjust="spacingAndGlyphs">MIX4</text>
<text transform="translate(913.7 1415) rotate(-90)" text-anchor="middle" font-size="35.5">Relative abundance of</text>
<text transform="translate(957.3 1416) rotate(-90)" text-anchor="middle" font-size="35">methanogen cells (%)</text>
<text x="833.8" y="1230.9" font-family='Liberation Sans, sans-serif' font-weight="bold" font-size="29" stroke="#000" stroke-width="0.7">F</text>
<rect x="1006.5" y="1658" width="17.5" height="17.5" fill="#ffff00" stroke="#111" stroke-width="1.5"/>
<text x="1035.5" y="1674.4" font-size="27.9"><tspan font-style="italic">M. boviskoreani</tspan> (AbM4)</text>
<rect x="1006.5" y="1691.4" width="17.5" height="17.5" fill="#c00000" stroke="#111" stroke-width="1.5"/>
<text x="1035.5" y="1707.7" font-size="27.9"><tspan font-style="italic">M. ruminantium</tspan> (M1)</text>
<rect x="1006.5" y="1722.6" width="17.5" height="17.5" fill="#1ea8f0" stroke="#111" stroke-width="1.5"/>
<text x="1035.5" y="1740.5" font-size="27.9"><tspan font-style="italic">M. gottschalkii</tspan> (D5, SM9)</text>
</g>
</svg>
</body></html>
